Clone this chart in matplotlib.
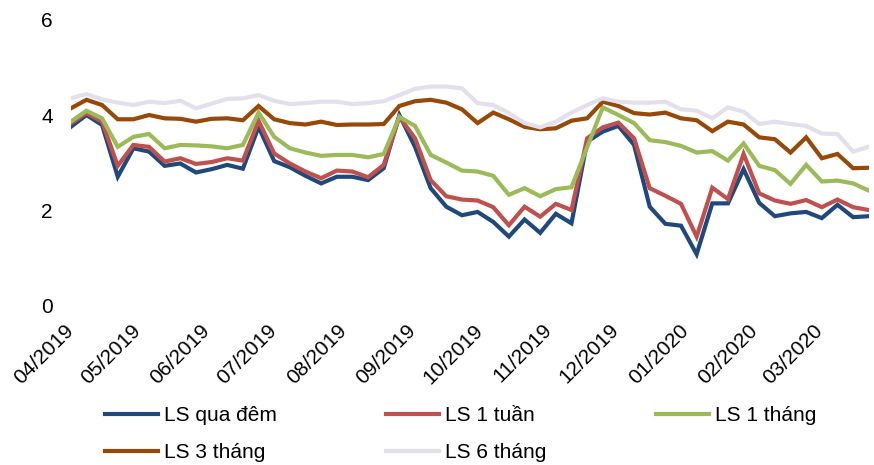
import matplotlib
matplotlib.use("Agg")
import matplotlib.pyplot as plt
import matplotlib.dates as mdates
import pandas as pd

plt.rcParams["font.family"] = ["Liberation Sans", "DejaVu Sans"]

# weekly interbank rates, %/year
weeks = pd.date_range("2019-04-01", periods=52, freq="7D")

ls_qua_dem = [3.75, 4.00, 3.79, 2.70, 3.30, 3.23, 2.93, 2.98, 2.79, 2.86,
              2.95, 2.87, 3.75, 3.03, 2.90, 2.72, 2.56, 2.70, 2.70, 2.63,
              2.88, 4.00, 3.33, 2.46, 2.07, 1.89, 1.96, 1.75, 1.44, 1.80,
              1.52, 1.92, 1.72, 3.44, 3.65, 3.77, 3.37, 2.07, 1.71, 1.67,
              1.07, 2.14, 2.14, 2.86, 2.15, 1.87, 1.93, 1.96, 1.83, 2.11,
              1.85, 1.87]
ls_1_tuan = [3.82, 4.04, 3.86, 2.93, 3.37, 3.33, 3.02, 3.09, 2.97, 3.01,
             3.09, 3.04, 3.88, 3.19, 2.98, 2.81, 2.67, 2.83, 2.81, 2.69,
             2.95, 3.96, 3.51, 2.63, 2.29, 2.22, 2.20, 2.06, 1.68, 2.07,
             1.86, 2.13, 2.00, 3.51, 3.74, 3.84, 3.51, 2.46, 2.30, 2.13,
             1.44, 2.47, 2.23, 3.18, 2.35, 2.20, 2.13, 2.21, 2.06, 2.22,
             2.06, 2.00]
ls_1_thang = [3.86, 4.09, 3.93, 3.33, 3.54, 3.60, 3.30, 3.37, 3.36, 3.34,
              3.30, 3.37, 4.05, 3.54, 3.30, 3.21, 3.14, 3.16, 3.16, 3.11,
              3.18, 3.96, 3.77, 3.16, 3.00, 2.83, 2.81, 2.72, 2.32, 2.46,
              2.29, 2.44, 2.48, 3.32, 4.16, 4.00, 3.83, 3.47, 3.43, 3.35,
              3.21, 3.24, 3.04, 3.40, 2.93, 2.84, 2.55, 2.95, 2.60, 2.62,
              2.56, 2.41]
ls_3_thang = [4.14, 4.32, 4.21, 3.91, 3.91, 4.00, 3.93, 3.92, 3.86, 3.92,
              3.93, 3.89, 4.19, 3.91, 3.83, 3.80, 3.86, 3.79, 3.80, 3.80,
              3.81, 4.19, 4.29, 4.32, 4.26, 4.12, 3.83, 4.05, 3.91, 3.75,
              3.70, 3.72, 3.88, 3.93, 4.28, 4.19, 4.04, 4.01, 4.05, 3.93,
              3.89, 3.66, 3.86, 3.80, 3.53, 3.49, 3.21, 3.53, 3.09, 3.18,
              2.88, 2.89]
ls_6_thang = [4.35, 4.44, 4.33, 4.26, 4.21, 4.28, 4.25, 4.30, 4.14, 4.24,
              4.34, 4.35, 4.42, 4.30, 4.23, 4.25, 4.28, 4.28, 4.23, 4.25,
              4.29, 4.42, 4.55, 4.60, 4.60, 4.56, 4.25, 4.21, 4.04, 3.83,
              3.74, 3.86, 4.05, 4.21, 4.35, 4.28, 4.26, 4.26, 4.28, 4.12,
              4.09, 3.93, 4.16, 4.07, 3.81, 3.86, 3.81, 3.77, 3.61, 3.60,
              3.23, 3.33]

labels = ["LS qua đêm", "LS 1 tuần", "LS 1 tháng", "LS 3 tháng", "LS 6 tháng"]
colors = ["#1F497D", "#C0504D", "#9BBB59", "#984807", "#E4DFEC"]
series = [ls_qua_dem, ls_1_tuan, ls_1_thang, ls_3_thang, ls_6_thang]

fig = plt.figure(figsize=(8.74, 4.65), dpi=100)
ax = fig.add_axes([0.081, 0.344, 0.913, 0.613])

lines = []
for vals, lab, col in zip(series, labels, colors):
    ln, = ax.plot(weeks, vals, color=col, lw=3, label=lab,
                  solid_joinstyle="miter")
    lines.append(ln)

ax.set_xlim(weeks[0], weeks[-1])
ax.set_ylim(0, 6)
ax.set_yticks([0, 2, 4, 6])
ax.xaxis.set_major_locator(mdates.MonthLocator())
ax.xaxis.set_major_formatter(mdates.DateFormatter("%m/%Y"))
ax.tick_params(axis="y", length=0, pad=13, labelsize=15)
ax.tick_params(axis="x", length=0, pad=16, labelsize=15)
for t in ax.get_xticklabels():
    t.set_rotation(45)
    t.set_ha("right")
    t.set_va("center")
    t.set_rotation_mode("anchor")

for s in ax.spines.values():
    s.set_visible(False)

# legend laid out row by row: 3 + 2
order = [0, 3, 1, 4, 2]
fig.legend([lines[i] for i in order], [labels[i] for i in order],
           ncol=3, loc="center left", bbox_to_anchor=(0.120, 0.066),
           frameon=False, fontsize=15, handlelength=2.55, handletextpad=0.29,
           columnspacing=5.25, labelspacing=0.88, borderpad=0, borderaxespad=0)

fig.savefig("out.png", dpi=100, facecolor="white")
